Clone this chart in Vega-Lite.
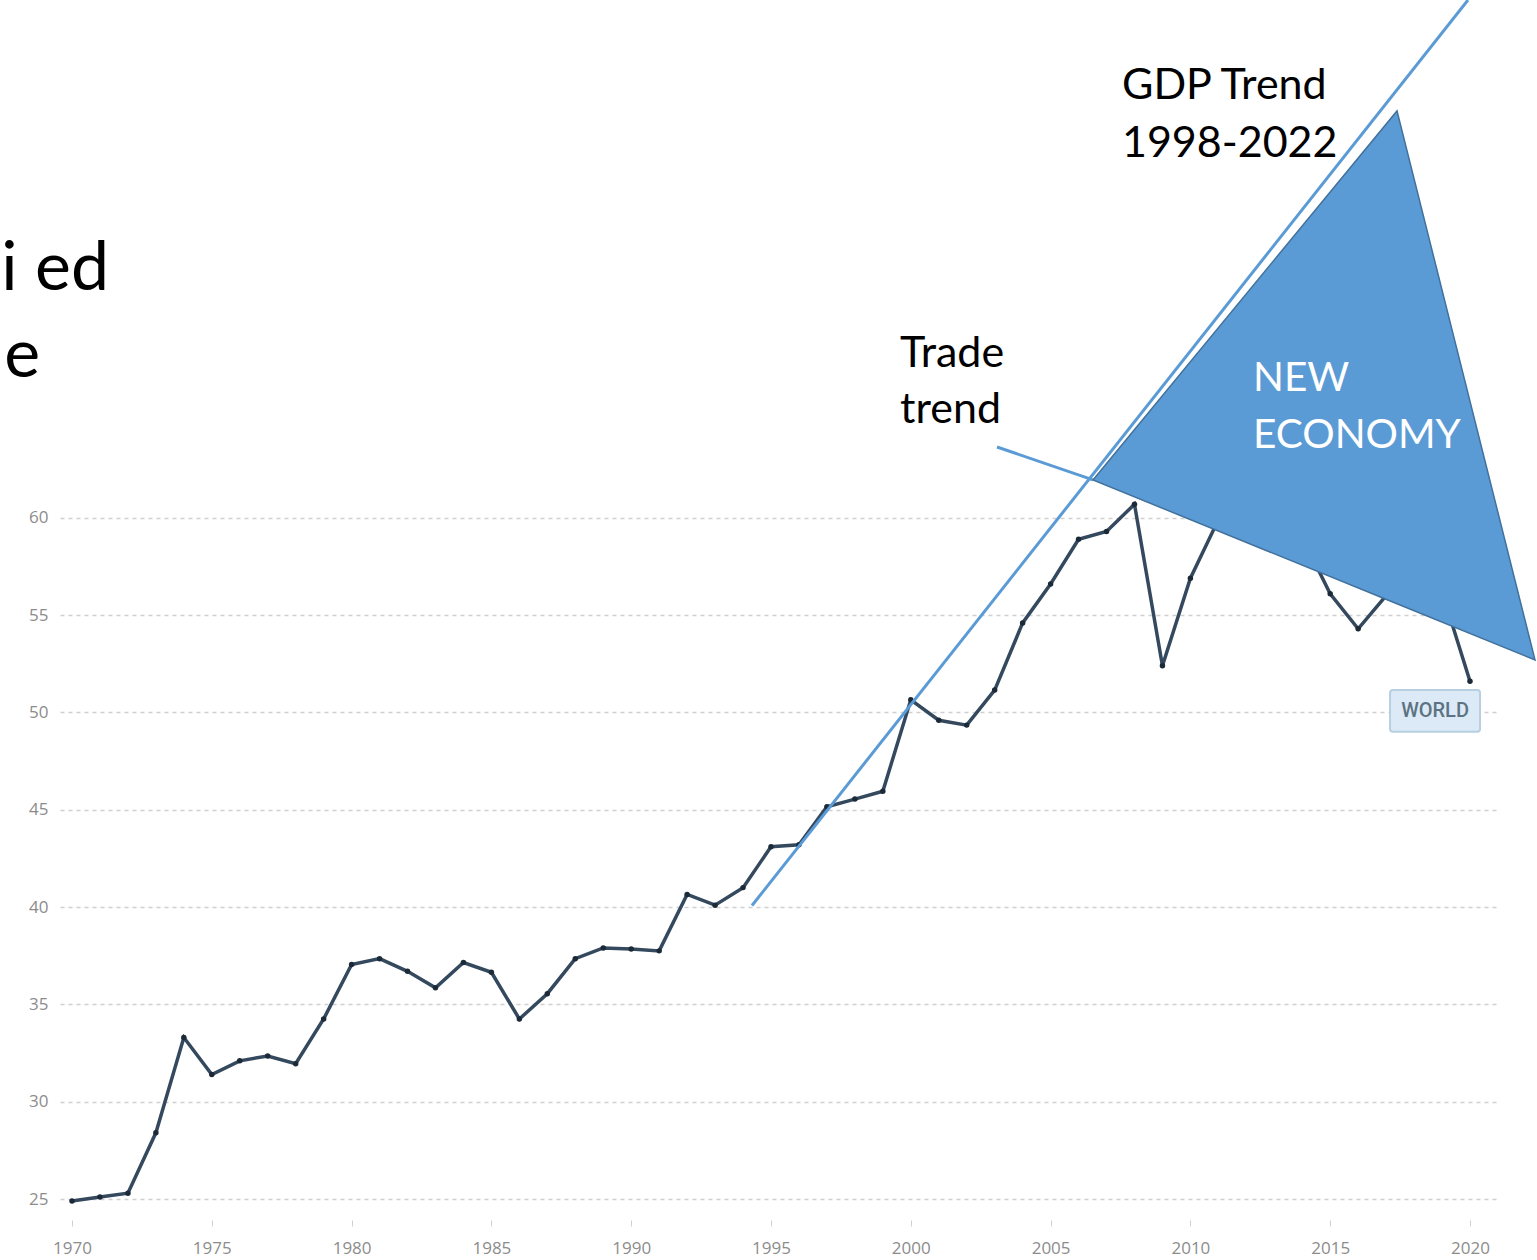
{
  "$schema": "https://vega.github.io/schema/vega-lite/v6.json",
  "width": 1440,
  "height": 1220,
  "autosize": {"type": "none"},
  "padding": {"left": 60, "top": 0, "right": 37, "bottom": 40},
  "background": "white",
  "config": {"view": {"stroke": null}},
  "encoding": {
    "x": {
      "field": "year",
      "type": "quantitative",
      "scale": {"domain": [1969.571, 2021.073], "nice": false, "zero": false},
      "axis": {
        "title": null,
        "values": [1970, 1975, 1980, 1985, 1990, 1995, 2000, 2005, 2010, 2015, 2020],
        "format": "d",
        "grid": false,
        "domain": false,
        "ticks": true,
        "tickSize": 6,
        "tickColor": "#d0d0d0",
        "labelPadding": 14,
        "labelFont": "Open Sans",
        "labelFontSize": 17,
        "labelColor": "#8c8c8c"
      }
    },
    "y": {
      "field": "value",
      "type": "quantitative",
      "scale": {"domain": [23.921, 86.61], "nice": false, "zero": false},
      "axis": {
        "title": null,
        "values": [25, 30, 35, 40, 45, 50, 55, 60],
        "grid": true,
        "gridDash": [4, 4],
        "gridColor": "#d0d0d0",
        "gridWidth": 1.5,
        "domain": false,
        "ticks": false,
        "labelPadding": 12,
        "labelFont": "Open Sans",
        "labelFontSize": 17,
        "labelColor": "#8c8c8c"
      }
    }
  },
  "layer": [
    {
      "data": {"values": [
        {"year": 1970, "value": 24.9}, {"year": 1971, "value": 25.1}, {"year": 1972, "value": 25.3},
        {"year": 1973, "value": 28.4}, {"year": 1974, "value": 33.3}, {"year": 1975, "value": 31.4},
        {"year": 1976, "value": 32.1}, {"year": 1977, "value": 32.35}, {"year": 1978, "value": 31.95},
        {"year": 1979, "value": 34.25}, {"year": 1980, "value": 37.05}, {"year": 1981, "value": 37.35},
        {"year": 1982, "value": 36.7}, {"year": 1983, "value": 35.85}, {"year": 1984, "value": 37.15},
        {"year": 1985, "value": 36.65}, {"year": 1986, "value": 34.25}, {"year": 1987, "value": 35.55},
        {"year": 1988, "value": 37.35}, {"year": 1989, "value": 37.9}, {"year": 1990, "value": 37.85},
        {"year": 1991, "value": 37.75}, {"year": 1992, "value": 40.65}, {"year": 1993, "value": 40.1},
        {"year": 1994, "value": 41.0}, {"year": 1995, "value": 43.1}, {"year": 1996, "value": 43.2},
        {"year": 1997, "value": 45.15}, {"year": 1998, "value": 45.55}, {"year": 1999, "value": 45.95},
        {"year": 2000, "value": 50.65}, {"year": 2001, "value": 49.6}, {"year": 2002, "value": 49.35},
        {"year": 2003, "value": 51.15}, {"year": 2004, "value": 54.6}, {"year": 2005, "value": 56.6},
        {"year": 2006, "value": 58.9}, {"year": 2007, "value": 59.3}, {"year": 2008, "value": 60.7},
        {"year": 2009, "value": 52.4}, {"year": 2010, "value": 56.9}, {"year": 2011, "value": 59.9},
        {"year": 2012, "value": 59.8}, {"year": 2013, "value": 59.4}, {"year": 2014, "value": 59.0},
        {"year": 2015, "value": 56.1}, {"year": 2016, "value": 54.3}, {"year": 2017, "value": 56.0},
        {"year": 2018, "value": 57.8}, {"year": 2019, "value": 56.2}, {"year": 2020, "value": 51.6}
      ]},
      "mark": {"type": "line", "color": "#34495e", "strokeWidth": 3.5,
               "point": {"filled": true, "size": 30, "color": "#1c2a38"}}
    },
    {
      "data": {"values": [{"year": 2017.14, "year2": 2020.36, "value": 51.16, "value2": 49.01}]},
      "mark": {"type": "rect", "fill": "#dbeaf6", "stroke": "#b7cfe1", "strokeWidth": 2, "cornerRadius": 3},
      "encoding": {"x2": {"field": "year2"}, "y2": {"field": "value2"}}
    },
    {
      "data": {"values": [{"year": 2018.75, "value": 50.05, "label": "WORLD"}]},
      "mark": {"type": "text", "font": "Roboto", "fontSize": 20, "fontWeight": 500, "color": "#5d7383",
               "align": "center", "baseline": "middle"},
      "encoding": {"text": {"field": "label"}}
    },
    {
      "data": {"values": [{"year": 2003.083, "value": 63.643}, {"year": 2006.516, "value": 61.948}]},
      "mark": {"type": "line", "color": "#5b9bd5", "strokeWidth": 3}
    },
    {
      "data": {"values": [{"year": 1994.32, "value": 40.08}, {"year": 2019.928, "value": 86.61}]},
      "mark": {"type": "line", "color": "#5b9bd5", "strokeWidth": 3}
    },
    {
      "data": {"values": [
        {"year": 2006.516, "value": 61.948, "value2": 61.948},
        {"year": 2017.389, "value": 80.91, "value2": 55.586},
        {"year": 2022.325, "value": 52.70, "value2": 52.70}
      ]},
      "mark": {"type": "area", "fill": "#5b9bd5", "fillOpacity": 1, "stroke": "#41719c", "strokeWidth": 1.5, "orient": "vertical"},
      "encoding": {"y2": {"field": "value2"}}
    },
    {
      "data": {"values": [
        {"year": 2007.553, "value": 81.51, "label": "GDP Trend"},
        {"year": 2007.553, "value": 78.56, "label": "1998-2022"},
        {"year": 1999.614, "value": 67.77, "label": "Trade"},
        {"year": 1999.614, "value": 64.86, "label": "trend"}
      ]},
      "mark": {"type": "text", "font": "Lato", "fontSize": 43, "color": "#000000", "align": "left", "baseline": "alphabetic"},
      "encoding": {"text": {"field": "label"}}
    },
    {
      "data": {"values": [
        {"year": 2012.239, "value": 66.52, "label": "NEW"},
        {"year": 2012.239, "value": 63.58, "label": "ECONOMY"}
      ]},
      "mark": {"type": "text", "font": "Lato", "fontSize": 40.5, "color": "#ffffff", "align": "left", "baseline": "alphabetic"},
      "encoding": {"text": {"field": "label"}}
    },
    {
      "data": {"values": [
        {"year": 1967.47, "value": 71.71, "label": "i ed"},
        {"year": 1967.58, "value": 67.26, "label": "e"}
      ]},
      "mark": {"type": "text", "font": "Lato", "fontSize": 68, "color": "#000000", "align": "left", "baseline": "alphabetic"},
      "encoding": {"text": {"field": "label"}}
    }
  ]
}
